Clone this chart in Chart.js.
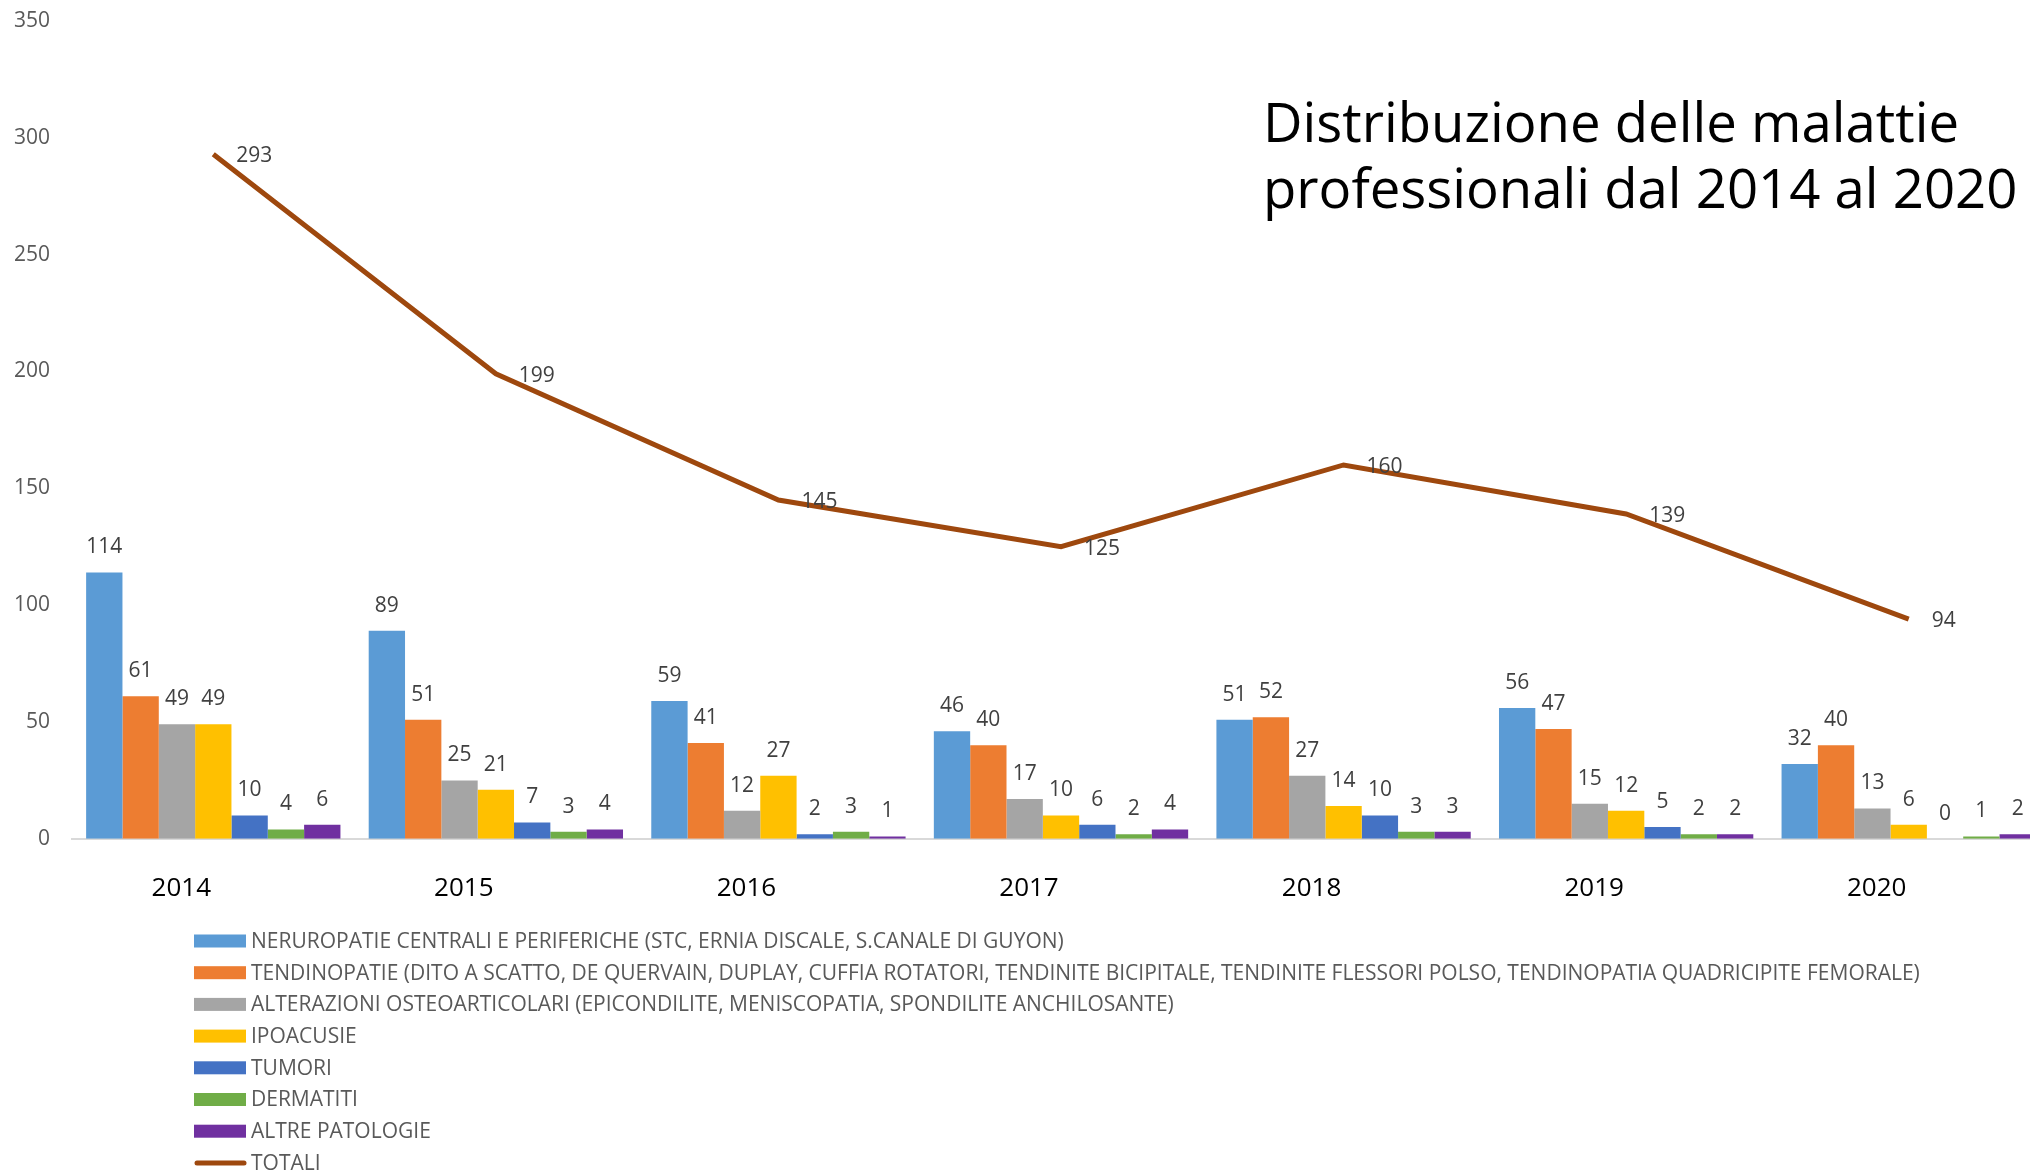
<!DOCTYPE html>
<html lang="it">
<head>
<meta charset="UTF-8">
<title>Distribuzione delle malattie professionali dal 2014 al 2020</title>
<script src="https://cdn.jsdelivr.net/npm/chart.js"></script>
<style>
  html, body { margin: 0; padding: 0; background: #fff; overflow: hidden; }
  #wrap { width: 2060px; height: 1172px; }
</style>
</head>
<body>
<div id="wrap"><canvas id="malattieChart" width="2060" height="1172"></canvas></div>
<script>
// anni e valori per categoria di malattia
const anni = ['2014', '2015', '2016', '2017', '2018', '2019', '2020'];
const neuropatie   = [114, 89, 59, 46, 51, 56, 32];
const tendinopatie = [61, 51, 41, 40, 52, 47, 40];
const alterazioni  = [49, 25, 12, 17, 27, 15, 13];
const ipoacusie    = [49, 21, 27, 10, 14, 12, 6];
const tumori       = [10, 7, 2, 6, 10, 5, 0];
const dermatiti    = [4, 3, 3, 2, 3, 2, 1];
const altre        = [6, 4, 1, 4, 3, 2, 2];
const totali       = [293, 199, 145, 125, 160, 139, 94];
const yTicks = [0, 50, 100, 150, 200, 250, 300, 350];

const etichette = [
  'NERUROPATIE CENTRALI E PERIFERICHE (STC, ERNIA DISCALE, S.CANALE DI GUYON)',
  'TENDINOPATIE (DITO A SCATTO, DE QUERVAIN, DUPLAY, CUFFIA ROTATORI, TENDINITE BICIPITALE, TENDINITE FLESSORI POLSO, TENDINOPATIA QUADRICIPITE FEMORALE)',
  'ALTERAZIONI OSTEOARTICOLARI (EPICONDILITE, MENISCOPATIA, SPONDILITE ANCHILOSANTE)',
  'IPOACUSIE',
  'TUMORI',
  'DERMATITI',
  'ALTRE PATOLOGIE',
  'TOTALI'
];
const colori = ['#5B9BD5', '#ED7D31', '#A5A5A5', '#FFC000', '#4472C4', '#70AD47', '#7030A0', '#9E480E'];

const FONT = '"Open Sans", "Noto Sans", sans-serif';

// valori sopra le barre e a destra dei punti della linea
const etichetteValori = {
  id: 'etichetteValori',
  afterDatasetsDraw(chart) {
    const ctx = chart.ctx;
    ctx.save();
    ctx.font = '21px ' + FONT;
    ctx.fillStyle = '#404040';
    ctx.textBaseline = 'middle';
    chart.data.datasets.forEach((ds, i) => {
      const meta = chart.getDatasetMeta(i);
      meta.data.forEach((el, j) => {
        const v = ds.data[j];
        if (ds.type === 'line') {
          ctx.textAlign = 'left';
          ctx.fillText(String(v), el.x + 23, el.y + 2);
        } else {
          ctx.textAlign = 'center';
          ctx.fillText(String(v), el.x, el.y - 25);
        }
      });
    });
    ctx.restore();
  }
};

// titolo in alto a destra e legenda verticale sotto il grafico
const titoloLegenda = {
  id: 'titoloLegenda',
  afterDraw(chart) {
    const ctx = chart.ctx;
    ctx.save();
    ctx.fillStyle = '#000';
    ctx.font = '54.5px ' + FONT;
    ctx.textAlign = 'left';
    ctx.textBaseline = 'alphabetic';
    ctx.fillText('Distribuzione delle malattie', 1263, 142);
    ctx.fillText('professionali dal 2014 al 2020', 1263, 208);

    ctx.font = '21px ' + FONT;
    ctx.textBaseline = 'middle';
    chart.data.datasets.forEach((ds, i) => {
      const y = 941 + i * 31.7;
      if (ds.type === 'line') {
        ctx.strokeStyle = ds.borderColor;
        ctx.lineWidth = 5;
        ctx.lineCap = 'round';
        ctx.beginPath();
        ctx.moveTo(197, y);
        ctx.lineTo(244, y);
        ctx.stroke();
      } else {
        ctx.fillStyle = ds.backgroundColor;
        ctx.fillRect(194, y - 6.5, 52, 13);
      }
      ctx.fillStyle = '#595959';
      ctx.fillText(ds.label, 251, y + 1);
    });
    ctx.restore();
  }
};

const serieBarre = [neuropatie, tendinopatie, alterazioni, ipoacusie, tumori, dermatiti, altre];
const datasets = serieBarre.map((serie, i) => ({
  type: 'bar',
  label: etichette[i],
  data: serie,
  backgroundColor: colori[i],
  borderWidth: 0,
  categoryPercentage: 0.9,
  barPercentage: 1.0,
  order: 1
}));
datasets.push({
  type: 'line',
  label: etichette[7],
  data: totali,
  borderColor: colori[7],
  backgroundColor: colori[7],
  borderWidth: 5,
  pointRadius: 0,
  tension: 0,
  order: 0
});

new Chart(document.getElementById('malattieChart'), {
  type: 'bar',
  data: { labels: anni, datasets: datasets },
  options: {
    responsive: false,
    animation: false,
    layout: { padding: { left: 14, right: 10, top: 21, bottom: 234 } },
    plugins: {
      legend: { display: false },
      tooltip: { enabled: false }
    },
    scales: {
      x: {
        grid: { display: false, drawTicks: false },
        border: { display: true, color: '#D9D9D9', width: 2 },
        ticks: {
          font: { family: FONT, size: 26 },
          color: '#000',
          padding: 34,
          labelOffset: -32
        }
      },
      y: {
        min: yTicks[0],
        max: yTicks[yTicks.length - 1],
        grid: { display: false, drawTicks: false },
        border: { display: false },
        afterBuildTicks(scale) {
          scale.ticks = yTicks.map(v => ({ value: v }));
        },
        afterFit(scale) {
          // larghezza fissa dell'asse, e niente spazio extra sopra l'etichetta 350
          scale.width = 58;
          scale.paddingTop = 0;
        },
        ticks: {
          font: { family: FONT, size: 21 },
          color: '#595959',
          padding: 22
        }
      }
    }
  },
  plugins: [etichetteValori, titoloLegenda]
});
</script>
</body>
</html>
